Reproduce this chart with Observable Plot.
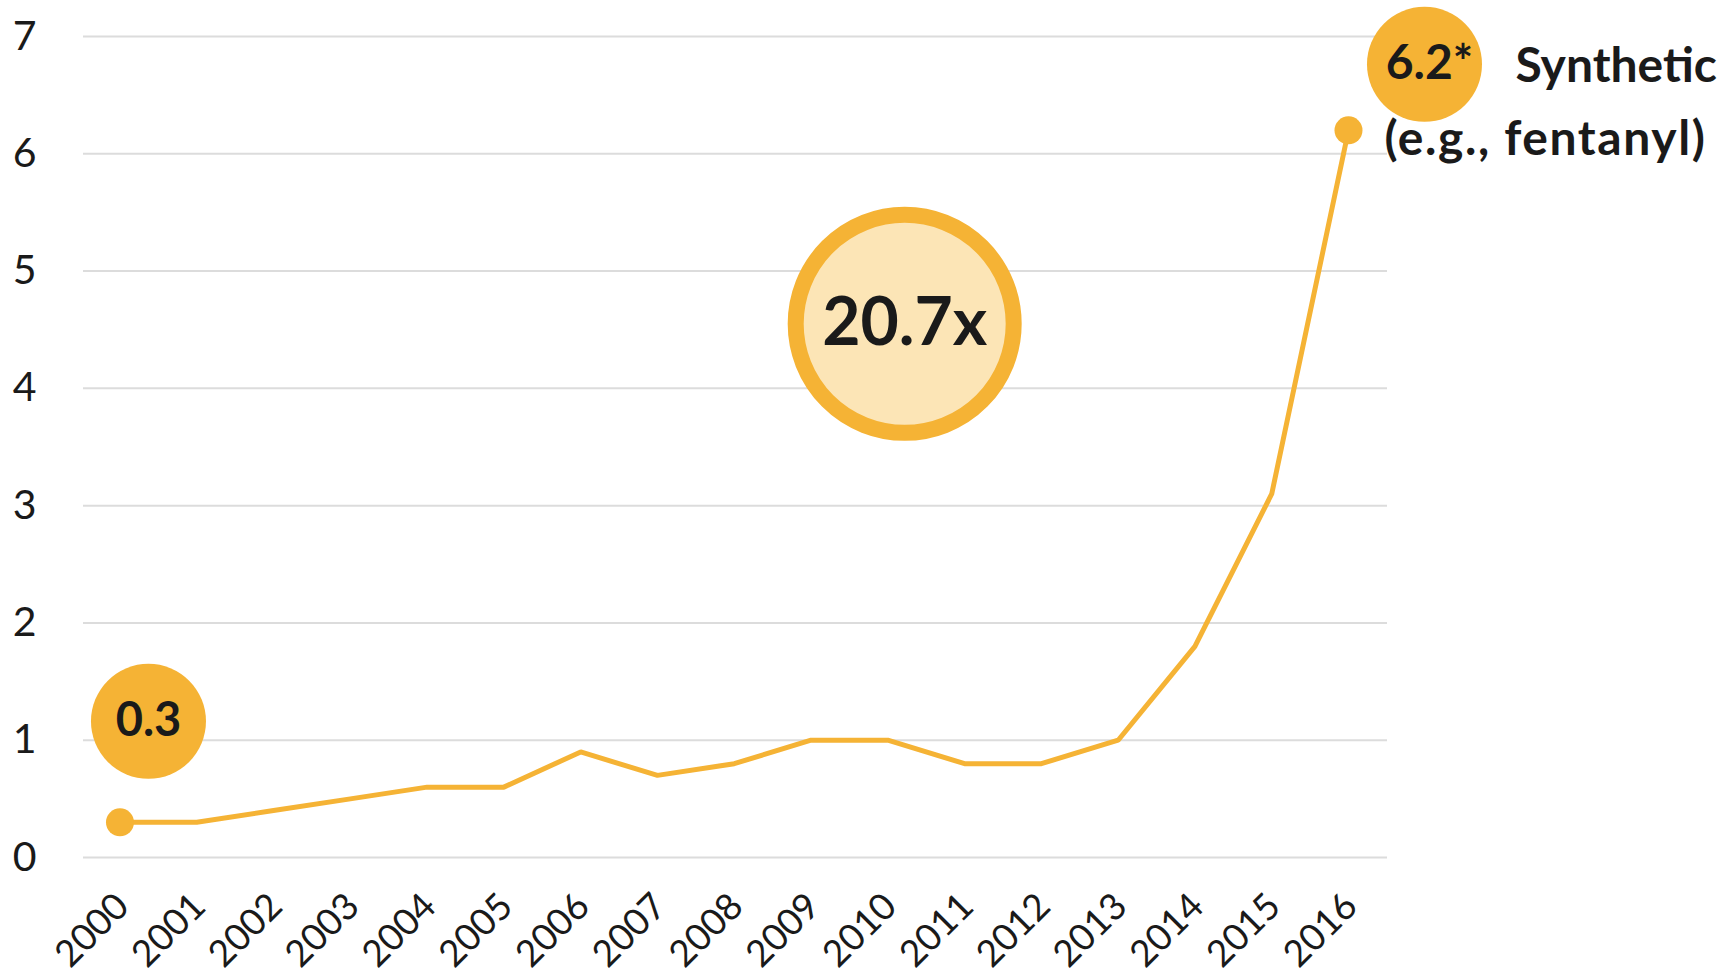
<!DOCTYPE html>
<html>
<head>
<meta charset="utf-8">
<script src="https://cdn.jsdelivr.net/npm/d3@7"></script>
<script src="https://cdn.jsdelivr.net/npm/@observablehq/plot@0.6"></script>
<style>
  html, body { margin: 0; padding: 0; background: #ffffff; }
  #chart svg { display: block; }
  .series-label-2 text { letter-spacing: 1.6px; }
</style>
</head>
<body>
<div id="chart"></div>
<script>
// ---- data ----
const years = [2000, 2001, 2002, 2003, 2004, 2005, 2006, 2007, 2008, 2009, 2010, 2011, 2012, 2013, 2014, 2015, 2016];
const values = [0.3, 0.3, 0.4, 0.5, 0.6, 0.6, 0.9, 0.7, 0.8, 1.0, 1.0, 0.8, 0.8, 1.0, 1.8, 3.1, 6.2];
const yTicks = [0, 1, 2, 3, 4, 5, 6, 7];
const seriesLabelLine1 = "Synthetic";
const seriesLabelLine2 = "(e.g., fentanyl)";
const endNote = "*";
// annotation anchor for the growth bubble (data units)
const growthBubbleYear = [2010.22];
const growthBubbleValue = [4.55];

// ---- derived ----
const rows = years.map((y, i) => ({year: y, value: values[i]}));
const first = rows[0];
const last = rows[rows.length - 1];
const growth = (last.value / first.value).toFixed(1) + "x";
const growthRows = growthBubbleYear.map((y, i) => ({year: y, value: growthBubbleValue[i], label: growth}));

const ORANGE = "#F5B335";
const PALE = "#FCE5B6";
const INK = "#1a1a1a";
const GRID = "#dcdcdc";

const chart = Plot.plot({
  width: 1731,
  height: 974,
  marginLeft: 83,
  marginRight: 344,
  marginTop: 36,
  marginBottom: 117,
  style: {fontFamily: "Lato, 'Open Sans', sans-serif", background: "#ffffff", color: INK},
  x: {domain: [1999.525, 2016.508], axis: null},
  y: {domain: [0, 7], axis: null},
  marks: [
    Plot.ruleY(yTicks, {stroke: GRID, strokeWidth: 2}),
    // y tick labels
    Plot.text(yTicks, {y: d => d, frameAnchor: "left", textAnchor: "end", dx: -47, text: d => String(d), fontSize: 41, fill: INK}),
    // x tick labels
    Plot.text(years, {x: d => d, frameAnchor: "bottom", rotate: -45, textAnchor: "end", dx: 11, dy: 51, text: d => String(d), fontSize: 37, fill: INK}),
    // series line
    Plot.line(rows, {x: "year", y: "value", stroke: ORANGE, strokeWidth: 5, strokeLinejoin: "miter"}),
    // end dots
    Plot.dot([first, last], {x: "year", y: "value", r: 14, fill: ORANGE}),
    // start value bubble
    Plot.dot([first], {x: "year", y: "value", r: 57.5, fill: ORANGE, dx: 28.5, dy: -101}),
    Plot.text([first], {x: "year", y: "value", text: d => d.value.toFixed(1), dx: 28.5, dy: -101, fontSize: 47, fontWeight: "bold", fill: INK}),
    // end value bubble
    Plot.dot([last], {x: "year", y: "value", r: 57.5, fill: ORANGE, dx: 76, dy: -66}),
    Plot.text([last], {x: "year", y: "value", text: d => d.value.toFixed(1) + endNote, dx: 81, dy: -67, fontSize: 48, fontWeight: "bold", fill: INK}),
    // series label
    Plot.text([last], {x: "year", y: "value", text: () => seriesLabelLine1, textAnchor: "start", dx: 167, dy: -64, fontSize: 48, fontWeight: "bold", fill: INK}),
    Plot.text([last], {x: "year", y: "value", text: () => seriesLabelLine2, textAnchor: "start", dx: 36, dy: 9, fontSize: 48, fontWeight: "bold", fill: INK, className: "series-label-2"}),
    // growth bubble
    Plot.dot(growthRows, {x: "year", y: "value", r: 109, fill: PALE, stroke: ORANGE, strokeWidth: 16}),
    Plot.text(growthRows, {x: "year", y: "value", text: "label", fontSize: 66, fontWeight: "bold", fill: INK})
  ]
});

document.getElementById("chart").appendChild(chart);
</script>
</body>
</html>
